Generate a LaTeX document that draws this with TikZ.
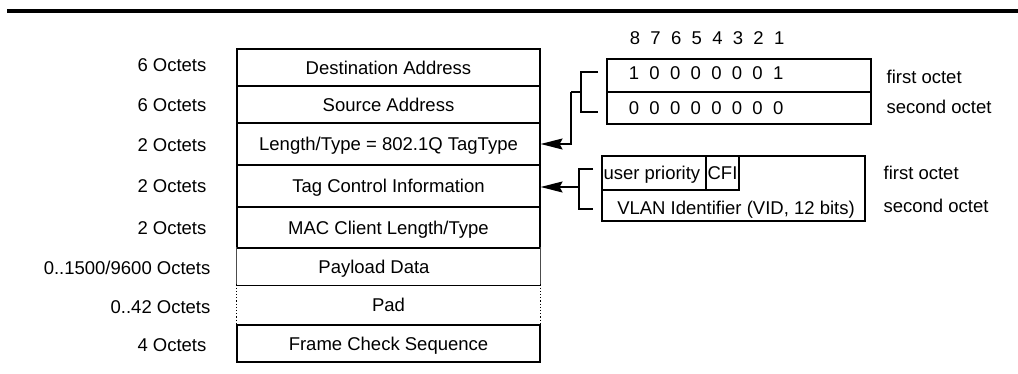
\documentclass[tikz,border=0pt]{standalone}
\usepackage{fontspec}
\setmainfont{Liberation Sans}
\usetikzlibrary{arrows.meta}
\begin{document}
\begin{tikzpicture}[x=1pt,y=-1pt,line width=1.2pt,
  every node/.style={font=\fontsize{18.5}{22}\selectfont},
  txt/.style={inner sep=0pt,text height=13.2pt,text depth=0pt},
  row/.style={draw,txt,minimum width=303pt},
  lbl/.style={txt,anchor=east},
  rlbl/.style={txt,anchor=west},
  cell/.style={draw,inner sep=0pt},
  tip/.style={-{Stealth[length=22pt,width=11pt,inset=3pt]}}]
\useasboundingbox (0,0) rectangle (1018,374);
\draw[line width=3.4pt] (7,11) -- (1018,11);

% main frame
\node[row,minimum height=37pt] (dst) at (388.5,67.5) {Destination Address};
\node[row,minimum height=37pt] (src) at (388.5,104.5) {Source Address};
\node[row,minimum height=42pt] (lt) at (388.5,144) {Length/Type = 802.1Q TagType};
\node[row,minimum height=42pt] (tci) at (388.5,186) {Tag Control Information};
\node[row,minimum height=41pt] (mac) at (388.5,227.5) {MAC Client Length/Type};
\node[row,draw=none,minimum height=37pt] (pay) at (388.5,266.5) {};
\node[txt] (paytxt) at (374,266.5) {Payload Data};
\node[row,draw=none,minimum height=40pt] (pad) at (388.5,305) {Pad};
\node[row,minimum height=37pt] (fcs) at (388.5,343.5) {Frame Check Sequence};
\draw (pay.north west) -- (pay.north east);
\draw (pay.south west) -- (pay.south east);
\draw[line width=0.9pt,black!70] (pay.north west) -- (pay.south west);
\draw[line width=0.9pt,black!70] (pay.north east) -- (pay.south east);
\draw[line width=1.2pt,dotted] (pad.north west) -- (pad.south west);
\draw[line width=1.2pt,dotted] (pad.north east) -- (pad.south east);

% left labels
\node[lbl] (l1) at (207,65) {6 Octets};
\node[lbl] (l2) at (207,105) {6 Octets};
\node[lbl] (l3) at (207,145) {2 Octets};
\node[lbl] (l4) at (207,186) {2 Octets};
\node[lbl] (l5) at (207,228) {2 Octets};
\node[lbl] (l6) at (211,268) {0..1500/9600 Octets};
\node[lbl] (l7) at (211,307) {0..42 Octets};
\node[lbl] (l8) at (207,345) {4 Octets};

% tag type octets
\node[cell,minimum width=264pt,minimum height=33pt] (o1) at (739,75.5) {};
\node[cell,minimum width=264pt,minimum height=32pt] (o2) at (739,108) {};
\foreach \d [count=\k from 0] in {8,7,6,5,4,3,2,1}
  \node[txt] (h\k) at (635+20.6*\k,38) {\d};
\foreach \d [count=\k from 0] in {1,0,0,0,0,0,0,1}
  \node[txt] (r\k) at (634+20.6*\k,73) {\d};
\foreach \d [count=\k from 0] in {0,0,0,0,0,0,0,0}
  \node[txt] (s\k) at (634+20.6*\k,108) {\d};
\node[rlbl] (f1) at (886,77) {first octet};
\node[rlbl] (f2) at (886,107) {second octet};

% tag control octets
\node[cell,minimum width=263pt,minimum height=65pt] (tag) at (733.5,188.5) {};
\node[cell,minimum width=104pt,minimum height=34pt] (up) at (654,173) {};
\node[txt,anchor=west] (uptxt) at (603,173) {user priority};
\node[cell,txt,minimum width=33pt,minimum height=34pt] (cfi) at (722.5,173) {CFI};
\node[txt] (vlan) at (736,207.5) {VLAN Identifier (VID, 12 bits)};
\node[rlbl] (g1) at (883,173) {first octet};
\node[rlbl] (g2) at (883,206) {second octet};

% brackets and arrows
\coordinate (b1t) at (598,72);
\coordinate (b1b) at (598,112);
\coordinate (b1m) at (581,92);
\coordinate (b1s) at (571,92);
\draw (b1t) -- (b1t -| b1m) -- (b1b -| b1m) -- (b1b);
\draw (b1m) -- (b1s);
\draw[tip] (b1s) |- (lt.east);

\coordinate (b2t) at (593,169);
\coordinate (b2b) at (593,209);
\coordinate (b2m) at (579,187);
\draw (b2t) -- (b2t -| b2m) -- (b2b -| b2m) -- (b2b);
\draw[tip] (b2m) -- (b2m -| tci.east);
\end{tikzpicture}
\end{document}
